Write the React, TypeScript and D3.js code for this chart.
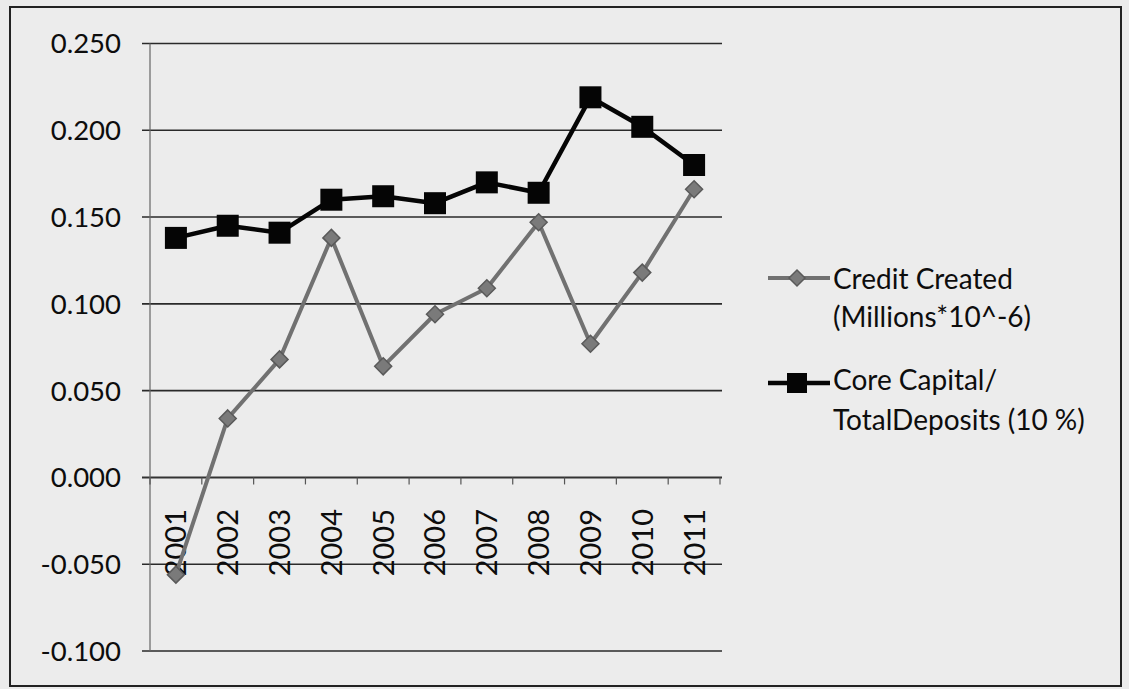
import React from "react";
import * as d3 from "d3";

const years = ["2001","2002","2003","2004","2005","2006","2007","2008","2009","2010","2011"];
const creditCreated = [-0.056, 0.034, 0.068, 0.138, 0.064, 0.094, 0.109, 0.147, 0.077, 0.118, 0.166];
const coreCapital = [0.138, 0.145, 0.141, 0.160, 0.162, 0.158, 0.170, 0.164, 0.219, 0.202, 0.180];
const yTicks = [-0.1, -0.05, 0, 0.05, 0.1, 0.15, 0.2, 0.25];
const legendCredit = ["Credit Created", "(Millions*10^-6)"];
const legendCore = ["Core Capital/", "TotalDeposits (10 %)"];

const W = 1129, H = 689;
const FONT = "Lato, 'Open Sans', sans-serif";

export default function App() {
  const x = d3.scaleBand<string>().domain(years).range([150, 720]).paddingInner(0).paddingOuter(0);
  const y = d3.scaleLinear().domain([-0.1, 0.25]).range([651, 43.5]);
  const cx = (yr: string) => (x(yr) as number) + x.bandwidth() / 2;
  const line = d3.line<number>().x((_, i) => cx(years[i])).y((v) => y(v));
  const fmt = (v: number) => d3.format(".3f")(v).replace("\u2212", "-");
  const diamond = (px: number, py: number, r: number) => `M${px},${py - r}L${px + r},${py}L${px},${py + r}L${px - r},${py}Z`;
  const sq = 11;
  const gray = "#717171";

  return (
    <svg width={W} height={H} style={{ position: "absolute", left: 0, top: 0, background: "#e9e9e9" }} fontFamily={FONT}>
      <rect x={0} y={0} width={W} height={H} fill="#ebebeb" />
      <rect x={10} y={7} width={1111} height={679} fill="#ececec" stroke="#222" strokeWidth={2} />
      {/* gridlines */}
      {yTicks.map((t) => (
        <line key={t} x1={142} x2={722} y1={y(t)} y2={y(t)} stroke={t === 0 ? "#333" : "#2a2a2a"} strokeWidth={t === 0 ? 2 : 1.6} />
      ))}
      {/* y axis */}
      <line x1={150} x2={150} y1={y(0.25)} y2={y(-0.1)} stroke="#666" strokeWidth={1.2} />
      {/* x axis ticks */}
      {years.concat(["end"]).map((yr, i) => {
        const px = 150 + i * x.bandwidth();
        return <line key={yr} x1={px} x2={px} y1={y(0)} y2={y(0) + 7} stroke="#555" strokeWidth={1.2} />;
      })}
      {/* y labels */}
      {yTicks.map((t) => (
        <text key={t} x={121} y={y(t)} dy="0.36em" textAnchor="end" fontSize={27.5} fill="#0d0d0d">{fmt(t)}</text>
      ))}
      {/* x labels */}
      {years.map((yr) => (
        <text key={yr} transform={`translate(${cx(yr)},509) rotate(-90)`} textAnchor="end" dy="0.36em" fontSize={29} fill="#0d0d0d">{yr}</text>
      ))}
      {/* credit created */}
      <path d={line(creditCreated) || ""} fill="none" stroke={gray} strokeWidth={4} strokeLinejoin="round" />
      {creditCreated.map((v, i) => (
        <path key={i} d={diamond(cx(years[i]), y(v), 8.5)} fill="#7a7a7a" stroke="#5a5a5a" strokeWidth={1.5} />
      ))}
      {/* core capital */}
      <path d={line(coreCapital) || ""} fill="none" stroke="#050505" strokeWidth={4.5} strokeLinejoin="round" />
      {coreCapital.map((v, i) => (
        <rect key={i} x={cx(years[i]) - sq} y={y(v) - sq} width={sq * 2} height={sq * 2} fill="#050505" />
      ))}
      {/* legend */}
      <line x1={768} x2={830} y1={278} y2={278} stroke={gray} strokeWidth={4} />
      <path d={diamond(797, 278, 8)} fill="#7a7a7a" stroke="#5a5a5a" strokeWidth={1.5} />
      {legendCredit.map((s, i) => (
        <text key={s} x={833} y={289 + i * 38} fontSize={28} fill="#0d0d0d">{s}</text>
      ))}
      <line x1={768} x2={830} y1={383} y2={383} stroke="#050505" strokeWidth={4.5} />
      <rect x={797 - 10} y={383 - 10} width={20} height={20} fill="#050505" />
      {legendCore.map((s, i) => (
        <text key={s} x={833} y={390 + i * 40} fontSize={28} fill="#0d0d0d">{s}</text>
      ))}
    </svg>
  );
}
